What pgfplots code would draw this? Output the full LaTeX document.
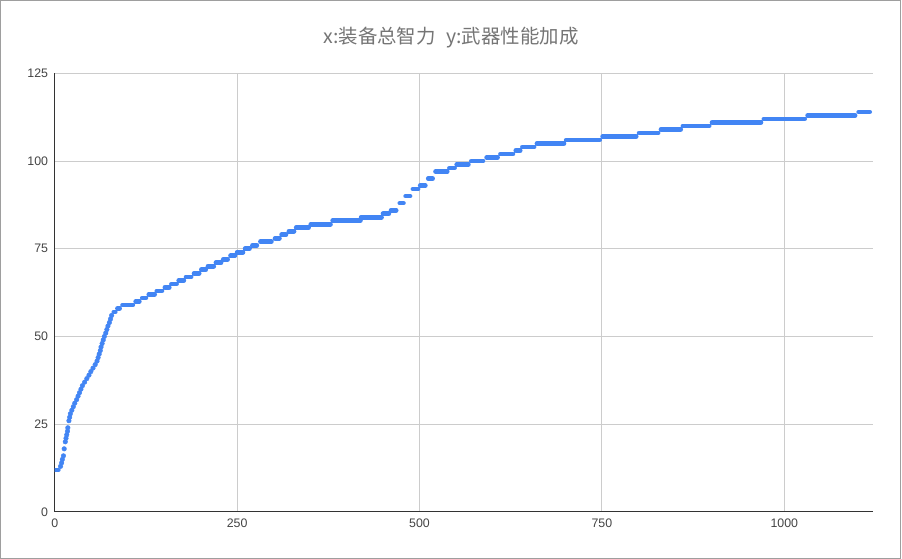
\documentclass[border=0pt]{standalone}
\usepackage{fontspec}
\setmainfont{Liberation Sans}
\newfontfamily\cjk{Noto Sans CJK SC}
\usepackage{pgfplots}
\pgfplotsset{compat=1.18}

\definecolor{gblue}{HTML}{4285F4}
\definecolor{gridgray}{HTML}{CCCCCC}
\definecolor{axisdark}{HTML}{333333}
\definecolor{ticktext}{HTML}{444444}
\definecolor{titlegray}{HTML}{757575}
\definecolor{border}{HTML}{9E9E9E}

\begin{document}
\begin{tikzpicture}
  \useasboundingbox (0,0) rectangle (902bp,559bp);
  \fill[white] (0,0) rectangle (902bp,559bp);
  \draw[border, line width=1bp] (0.5bp,0.5bp) rectangle (900bp,558.5bp);

  \begin{axis}[
    at={(54.7bp,47bp)}, anchor=south west,
    scale only axis,
    width=818.6bp, height=438.7bp,
    xmin=0, xmax=1122, ymin=0, ymax=125,
    xtick={0,250,500,750,1000},
    ytick={0,25,50,75,100,125},
    axis x line*=bottom, axis y line*=left,
    axis line style={axisdark, line width=1bp},
    major tick length=0pt,
    grid=major,
    major grid style={gridgray, line width=1bp},
    unbounded coords=jump,
    /pgf/number format/assume math mode=true,
    /pgf/number format/1000 sep={},
    ticklabel style={font=\fontsize{12.4}{14}\selectfont, text=ticktext, inner sep=0pt},
    xticklabel style={anchor=north, yshift=-7bp},
    yticklabel style={anchor=east, xshift=-6.4bp},
  ]
    % Stufen: jede Höhe als waagrechter Abschnitt
    \addplot[gblue, line width=4.7bp, line cap=round] coordinates {
      (0,12) (5,12) (5,nan)
      (81,57) (83,57) (83,nan)
      (86,58) (89,58) (89,nan)
      (93,59) (107,59) (107,nan)
      (111,60) (116,60) (116,nan)
      (120,61) (125,61) (125,nan)
      (129,62) (137,62) (137,nan)
      (140,63) (147,63) (147,nan)
      (151,64) (157,64) (157,nan)
      (160,65) (167,65) (167,nan)
      (170,66) (177,66) (177,nan)
      (180,67) (187,67) (187,nan)
      (191,68) (198,68) (198,nan)
      (201,69) (207,69) (207,nan)
      (210,70) (218,70) (218,nan)
      (221,71) (228,71) (228,nan)
      (231,72) (237,72) (237,nan)
      (241,73) (247,73) (247,nan)
      (250,74) (258,74) (258,nan)
      (261,75) (267,75) (267,nan)
      (271,76) (277,76) (277,nan)
      (282,77) (297,77) (297,nan)
      (302,78) (308,78) (308,nan)
      (311,79) (317,79) (317,nan)
      (321,80) (328,80) (328,nan)
      (331,81) (348,81) (348,nan)
      (351,82) (378,82) (378,nan)
      (381,83) (419,83) (419,nan)
      (420,84) (448,84) (448,nan)
      (450,85) (458,85) (458,nan)
      (461,86) (468,86) (468,nan)
      (473,88) (478,88) (478,nan)
      (481,90) (487,90) (487,nan)
      (491,92) (498,92) (498,nan)
      (501,93) (508,93) (508,nan)
      (512,95) (518,95) (518,nan)
      (522,97) (538,97) (538,nan)
      (541,98) (548,98) (548,nan)
      (551,99) (567,99) (567,nan)
      (571,100) (587,100) (587,nan)
      (592,101) (607,101) (607,nan)
      (611,102) (628,102) (628,nan)
      (632,103) (638,103) (638,nan)
      (641,104) (657,104) (657,nan)
      (661,105) (698,105) (698,nan)
      (701,106) (747,106) (747,nan)
      (751,107) (797,107) (797,nan)
      (801,108) (827,108) (827,nan)
      (831,109) (858,109) (858,nan)
      (861,110) (897,110) (897,nan)
      (901,111) (968,111) (968,nan)
      (972,112) (1028,112) (1028,nan)
      (1032,113) (1097,113) (1097,nan)
      (1102,114) (1117,114)
    };

    % steiler Anstieg am Anfang: Einzelpunkte
    \addplot[only marks, mark=*, mark size=2.3bp, gblue, draw=gblue, fill=gblue] coordinates {
      (8,13) (9.5,14) (10.5,15) (12,16) (13,18) (14.5,20)
      (15.5,21) (16.5,22) (17.5,23) (18,24) (19.5,26) (20.5,27)
      (21.5,28) (23.5,29) (25.5,30) (27.5,31) (30,32) (32,33)
      (34,34) (36,35) (38,36) (41,37) (44,38) (47,39)
      (49.5,40) (52.5,41) (55.5,42) (58,43) (59.5,44) (61,45)
      (62.5,46) (63.5,47) (65,48) (66.5,49) (68,50) (70,51)
      (71.5,52) (73,53) (75,54) (76.5,55) (78,56)
    };
  \end{axis}

  \node[font=\cjk\fontsize{19.5}{21}\selectfont, text=titlegray] at (451bp,521.5bp)
    {x:装备总智力\hspace{0.55em}y:武器性能加成};
\end{tikzpicture}
\end{document}
